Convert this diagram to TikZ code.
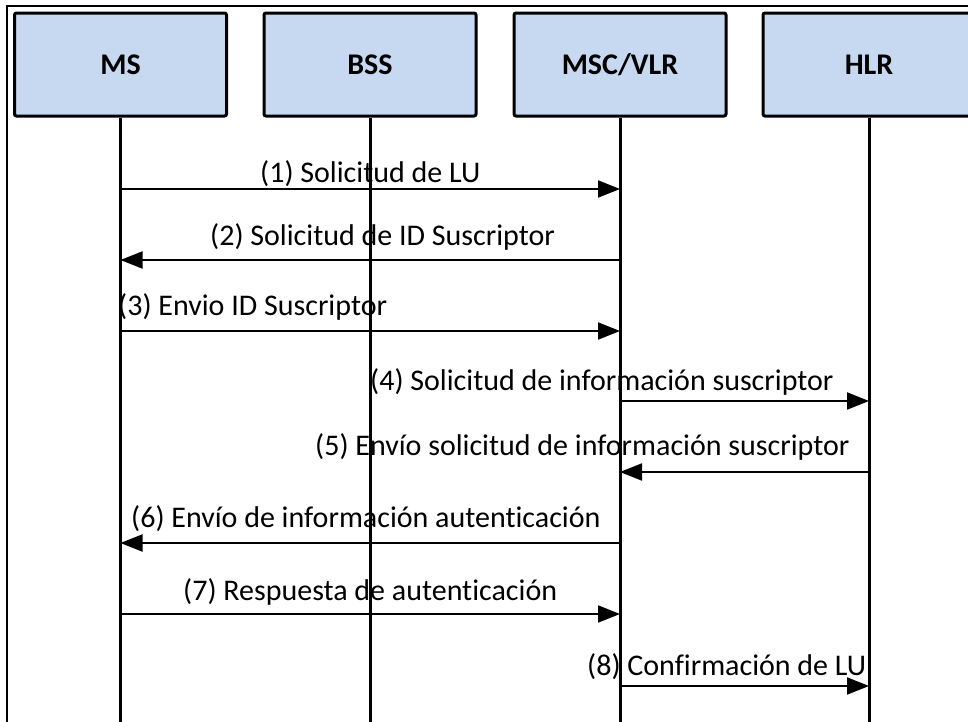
\documentclass[tikz,border=0pt]{standalone}
\usepackage{fontspec}
\setmainfont{Carlito}[Ligatures=NoCommon]
\usepackage{tikz}
\usetikzlibrary{arrows.meta, positioning, calc}
\definecolor{boxblue}{RGB}{198,217,240}
\tikzstyle{ent}=[draw, line width=3pt, fill=boxblue, rounded corners=2pt, minimum width=212pt, minimum height=103pt, font=\fontsize{30}{36}\selectfont\bfseries]
\tikzstyle{life}=[line width=3pt]
\tikzstyle{msg}=[line width=2pt, -{Triangle[length=22pt,width=17pt]}]
\tikzstyle{lbl}=[anchor=base west, inner sep=0pt, font=\fontsize{30}{36}\selectfont]

\begin{document}
\begin{tikzpicture}[x=1pt, y=-1pt]
\useasboundingbox (0,0) rectangle (968,721);
% the frame
\coordinate (FB) at (7,722);
\coordinate (FC) at (7,6);
\coordinate (FR) at (975,6);
\draw[line width=2pt] (FB) -- (FC) -- (FR);
% the entities
\node[ent] (MS) at (120.5,64.5) {MS};
\node[ent] (BSS) at (370,64.5) {BSS};
\node[ent] (MSC) at (620,64.5) {MSC/VLR};
\node[ent] (HLR) at (869,64.5) {HLR};
% the lifelines
\foreach \e in {MS,BSS,MSC,HLR}
  \draw[life] (\e.south) -- (\e.south |- FB);
% the rows
\foreach \i/\y in {1/189,2/260,3/331,4/401,5/472,6/543,7/614,8/686}
  \coordinate (r\i) at (0,\y);
% the labels
\node[lbl] (t1) at (260,182) {(1) Solicitud de LU};
\node[lbl] (t2) at (210,245) {(2) Solicitud de ID Suscriptor};
\node[lbl] (t3) at (118,315) {(3) Envio ID Suscriptor};
\node[lbl] (t4) at (370,390) {(4) Solicitud de información suscriptor};
\node[lbl] (t5) at (315,455) {(5) Envío solicitud de información suscriptor};
\node[lbl] (t6) at (131,527) {(6) Envío de información autenticación};
\node[lbl] (t7) at (183,600) {(7) Respuesta de autenticación};
\node[lbl] (t8) at (587,675) {(8) Confirmación de LU};
% the messages
\draw[msg] (MS |- r1) -- (MSC |- r1);
\draw[msg] (MSC |- r2) -- (MS |- r2);
\draw[msg] (MS |- r3) -- (MSC |- r3);
\draw[msg] (MSC |- r4) -- (HLR |- r4);
\draw[msg] (HLR |- r5) -- (MSC |- r5);
\draw[msg] (MSC |- r6) -- (MS |- r6);
\draw[msg] (MS |- r7) -- (MSC |- r7);
\draw[msg] (MSC |- r8) -- (HLR |- r8);
\end{tikzpicture}
\end{document}
